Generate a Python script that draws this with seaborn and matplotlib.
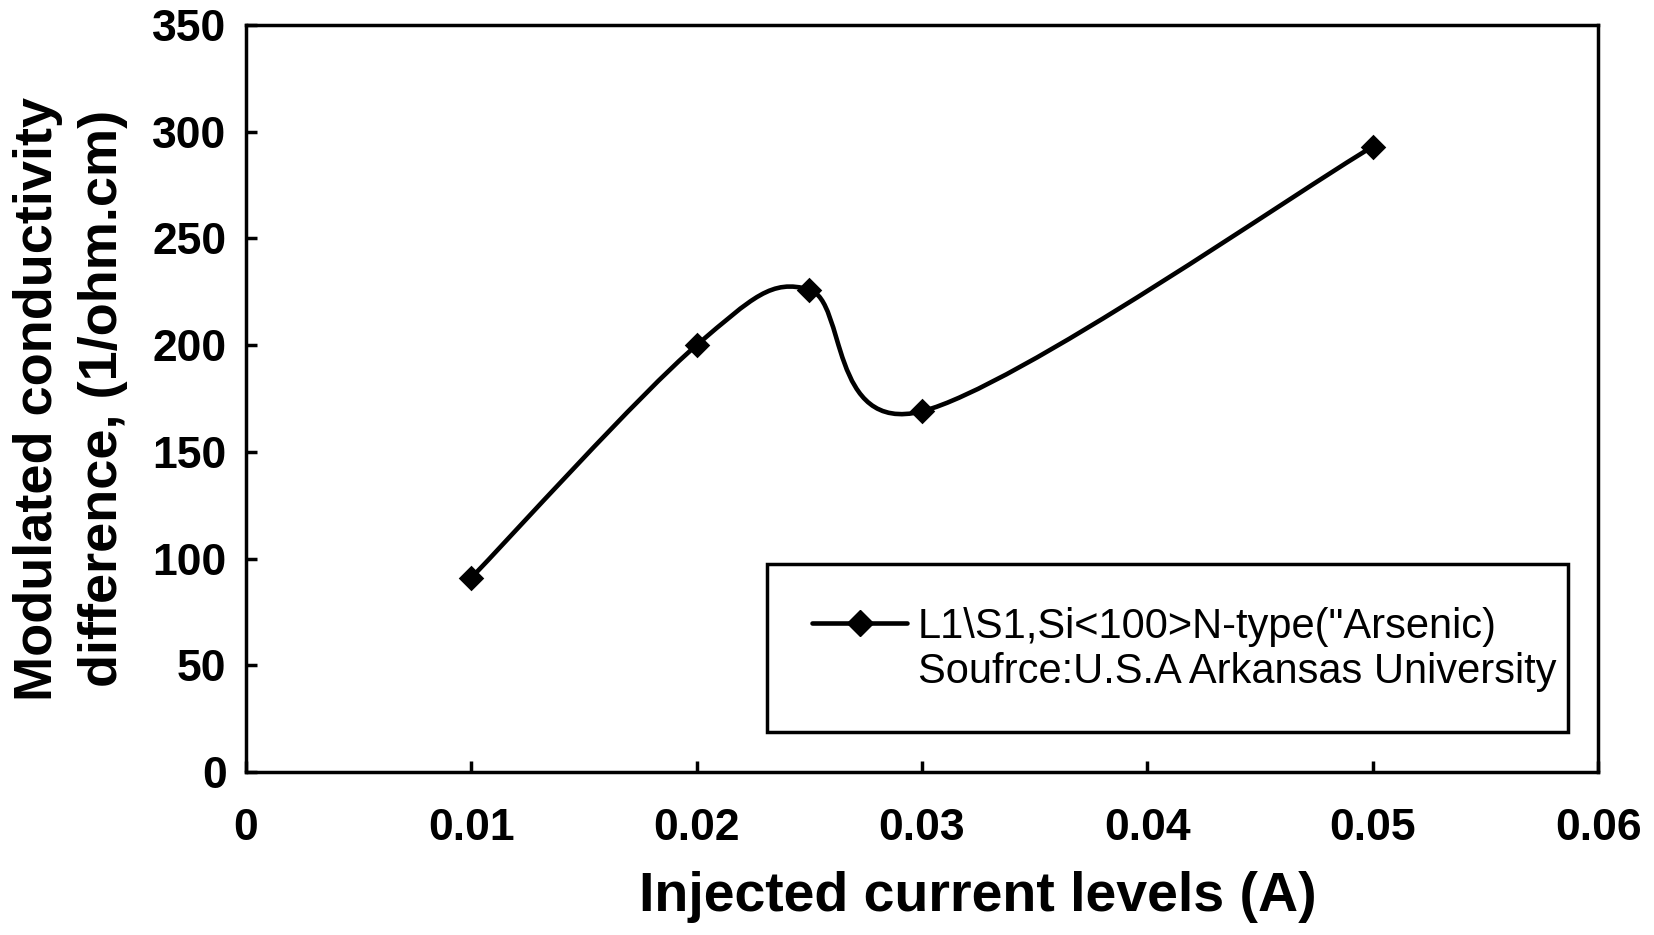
import numpy as np
import matplotlib
matplotlib.use("Agg")
import matplotlib.pyplot as plt
from matplotlib.path import Path
from matplotlib.patches import PathPatch, Rectangle
from matplotlib.lines import Line2D
import seaborn as sns

# data
current = [0.01, 0.02, 0.025, 0.03, 0.05]
conductivity = [91, 200, 226, 169, 293]

xtick_vals = [0, 0.01, 0.02, 0.03, 0.04, 0.05, 0.06]
xtick_labels = ["0", "0.01", "0.02", "0.03", "0.04", "0.05", "0.06"]
ytick_vals = [0, 50, 100, 150, 200, 250, 300, 350]

legend_line1 = 'L1\\S1,Si<100>N-type("Arsenic)'
legend_line2 = "Soufrce:U.S.A Arkansas University"

sns.set_theme(style="ticks")
plt.rcParams['font.family'] = ['Liberation Sans', 'DejaVu Sans']
plt.rcParams['text.color'] = 'black'
plt.rcParams['axes.labelcolor'] = 'black'
plt.rcParams['xtick.color'] = 'black'
plt.rcParams['ytick.color'] = 'black'


def smooth_path(xs, ys):
    # excel style smoothed line: cubic bezier, catmull-rom tangents (1/6)
    pts = np.column_stack([xs, ys]).astype(float)
    n = len(pts)
    verts = [pts[0]]
    codes = [Path.MOVETO]
    for i in range(n - 1):
        p_prev = pts[i - 1] if i > 0 else pts[i]
        p_next2 = pts[i + 2] if i + 2 < n else pts[i + 1]
        c1 = pts[i] + (pts[i + 1] - p_prev) / 6.0
        c2 = pts[i + 1] - (p_next2 - pts[i]) / 6.0
        verts += [c1, c2, pts[i + 1]]
        codes += [Path.CURVE4] * 3
    return Path(verts, codes)


fig = plt.figure(figsize=(16.54, 9.35), dpi=100)
ax = fig.add_axes([0.1487, 0.1743, 0.8175, 0.799])

ax.add_patch(PathPatch(smooth_path(current, conductivity), fill=False,
                       edgecolor="black", lw=3.3, zorder=2))
sns.scatterplot(x=current, y=conductivity, marker="D", s=169, color="black",
                edgecolor="black", linewidth=0, zorder=3, ax=ax, legend=False)

ax.set_xlim(0, 0.06)
ax.set_ylim(0, 350)
ax.set_xticks(xtick_vals, labels=xtick_labels)
ax.set_yticks(ytick_vals)

for s in ax.spines.values():
    s.set_linewidth(2.5)
    s.set_color("black")
ax.tick_params(direction="in", length=8, width=2.5, color="black")
ax.tick_params(axis="y", pad=14)
ax.tick_params(axis="x", pad=26)
for lab in ax.get_xticklabels() + ax.get_yticklabels():
    lab.set_fontsize(32)
    lab.set_fontweight("bold")

ax.set_xlabel("Injected current levels (A)", fontsize=40, fontweight="bold")
ax.set_ylabel("Modulated conductivity\ndifference, (1/ohm.cm)", fontsize=39,
              fontweight="bold", linespacing=1.4)
ax.xaxis.set_label_coords(0.541, -0.133)
ax.yaxis.set_label_coords(-0.087, 0.5)

# legend (box drawn separately so it matches the original padding)
h1 = Line2D([], [], color="black", lw=3.3, marker="D", markersize=13)
h2 = Line2D([], [], linestyle="none")
leg = fig.legend([h1, h2], [legend_line1, legend_line2], loc="upper left",
                 bbox_to_anchor=(0.491, 0.351), frameon=False, fontsize=30,
                 borderpad=0, borderaxespad=0, handlelength=2.28,
                 handletextpad=0.26, labelspacing=0.13)
fig.patches.append(Rectangle((0.4637, 0.2171), 0.4843, 0.1797,
                             transform=fig.transFigure, fill=False,
                             edgecolor="black", lw=2.5, zorder=5))

fig.savefig("out.png", dpi=100)
